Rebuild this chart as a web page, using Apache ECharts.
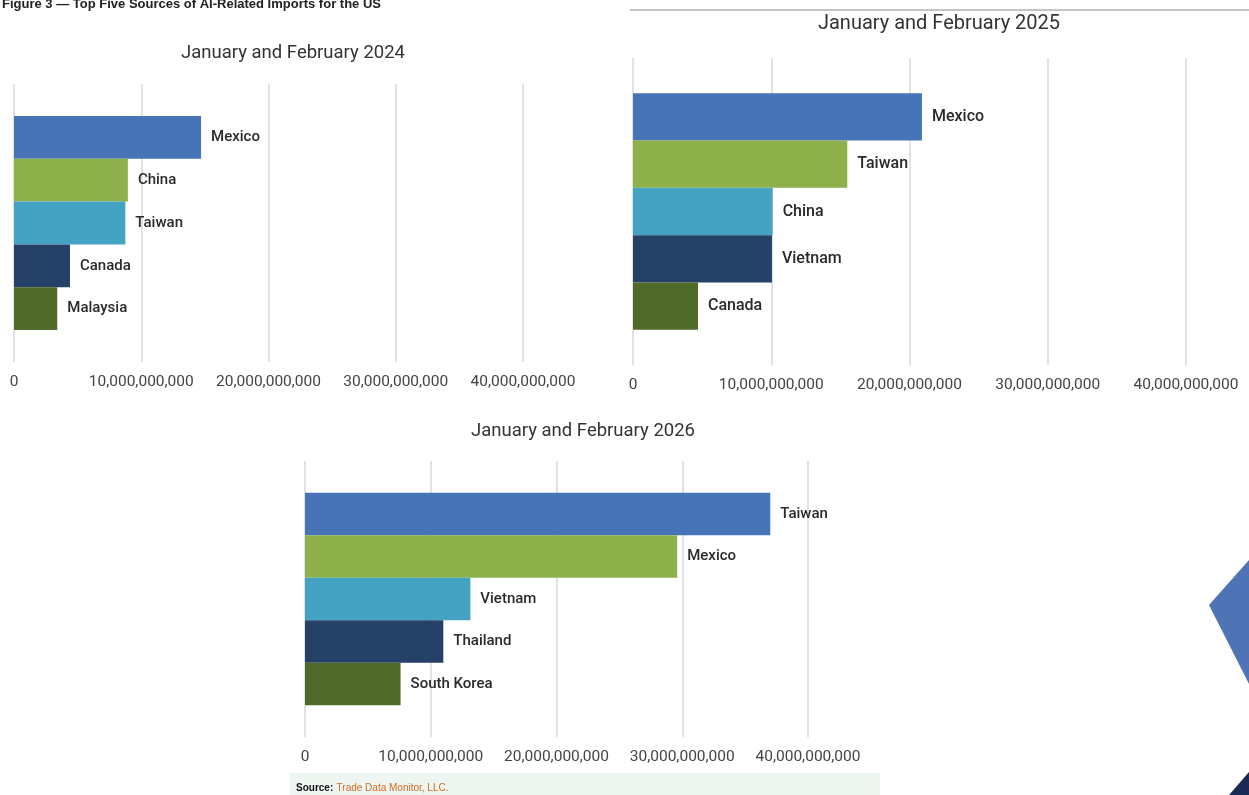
<!DOCTYPE html>
<html>
<head>
<meta charset="utf-8">
<script src="https://cdn.jsdelivr.net/npm/echarts@6/dist/echarts.min.js"></script>
<style>
  html, body { margin: 0; padding: 0; background: #fff; }
  #chart { width: 1249px; height: 795px; }
</style>
</head>
<body>
<div id="chart"></div>
<script>
// values (US dollars)
var names2024 = ['Mexico', 'China', 'Taiwan', 'Canada', 'Malaysia'];
var values2024 = [14.7e9, 8.95e9, 8.75e9, 4.4e9, 3.4e9];

var names2025 = ['Mexico', 'Taiwan', 'China', 'Vietnam', 'Canada'];
var values2025 = [20.9e9, 15.5e9, 10.1e9, 10.05e9, 4.7e9];

var names2026 = ['Taiwan', 'Mexico', 'Vietnam', 'Thailand', 'South Korea'];
var values2026 = [37.0e9, 29.6e9, 13.15e9, 11.0e9, 7.6e9];

var panelTitles = ['January and February 2024', 'January and February 2025', 'January and February 2026'];
var rankColors = ['#4674b7', '#8db04b', '#44a2c3', '#264168', '#4f6a29'];
var axisMax = 40e9;
var axisStep = 10e9;

var FONT = 'Roboto, "Noto Sans", sans-serif';

// panel boxes
var panels = [
  { names: names2024, values: values2024, grid: { left: 14, width: 509, top: 84, height: 278 },
    title: { x: 288, y: 39, size: 18.5 }, label: 15 },
  { names: names2025, values: values2025, grid: { left: 633, width: 553, top: 58, height: 307 },
    title: { x: 934, y: 9, size: 20 }, label: 16 },
  { names: names2026, values: values2026, grid: { left: 305, width: 503, top: 461, height: 276 },
    title: { x: 578, y: 417, size: 18.5 }, label: 15 }
];

var grids = [], xAxes = [], yAxes = [], series = [], titles = [];

panels.forEach(function (p, i) {
  grids.push({ left: p.grid.left, width: p.grid.width, top: p.grid.top, height: p.grid.height, outerBoundsMode: 'none' });
  titles.push({
    text: panelTitles[i], left: p.title.x, top: p.title.y, textAlign: 'center',
    textStyle: { fontFamily: FONT, fontSize: p.title.size, fontWeight: 'normal', color: '#333' }
  });
  xAxes.push({
    type: 'value', gridIndex: i, min: 0, max: axisMax, interval: axisStep,
    axisLine: { show: false }, axisTick: { show: false },
    splitLine: { lineStyle: { color: '#d9d9d9', width: 1.5 } },
    axisLabel: {
      margin: 12, fontFamily: FONT, fontSize: 15.5, color: '#444',
      formatter: function (v) { return v.toLocaleString('en-US'); }
    }
  });
  yAxes.push({
    type: 'category', gridIndex: i, data: [''], inverse: true,
    axisLine: { show: false }, axisTick: { show: false }, axisLabel: { show: false }
  });
  p.names.forEach(function (name, k) {
    series.push({
      type: 'bar', name: name, xAxisIndex: i, yAxisIndex: i,
      data: [p.values[k]],
      barGap: '0%', barCategoryGap: '23%',
      itemStyle: { color: rankColors[k] },
      label: {
        show: true, position: 'right', distance: 10,
        formatter: name, fontFamily: FONT, fontSize: p.label, fontWeight: 500, color: '#2a2a2a'
      },
      silent: true
    });
  });
});

titles.push({
  text: 'Figure 3 \u2014 Top Five Sources of AI-Related Imports for the US',
  left: -3, top: -7,
  textStyle: { fontFamily: '"Liberation Sans", Arial, sans-serif', fontSize: 13, fontWeight: 'bold', color: '#222' }
});

var chart = echarts.init(document.getElementById('chart'), null, { renderer: 'canvas' });
chart.setOption({
  animation: false,
  backgroundColor: '#fff',
  title: titles,
  grid: grids,
  xAxis: xAxes,
  yAxis: yAxes,
  series: series,
  graphic: [
    { type: 'line', shape: { x1: 630, y1: 10, x2: 1249, y2: 10 }, style: { stroke: '#8a8a8a', lineWidth: 1 } },
    { type: 'rect', shape: { x: 290, y: 773, width: 590, height: 24 }, style: { fill: '#eef6f2' } },
    {
      type: 'text', left: 296, top: 782,
      style: {
        rich: {
          b: { fontFamily: '"Liberation Sans", Arial, sans-serif', fontSize: 10, fontWeight: 'bold', fill: '#111' },
          o: { fontFamily: '"Liberation Sans", Arial, sans-serif', fontSize: 10, fill: '#d36a1e' }
        },
        text: '{b|Source:} {o|Trade Data Monitor, LLC.}'
      }
    },
    { type: 'polygon', shape: { points: [[1249, 560], [1209, 605], [1249, 684]] }, style: { fill: '#4f74b5' } },
    { type: 'polygon', shape: { points: [[1229, 795], [1249, 772], [1249, 795]] }, style: { fill: '#1b2a55' } }
  ]
});
</script>
</body>
</html>
